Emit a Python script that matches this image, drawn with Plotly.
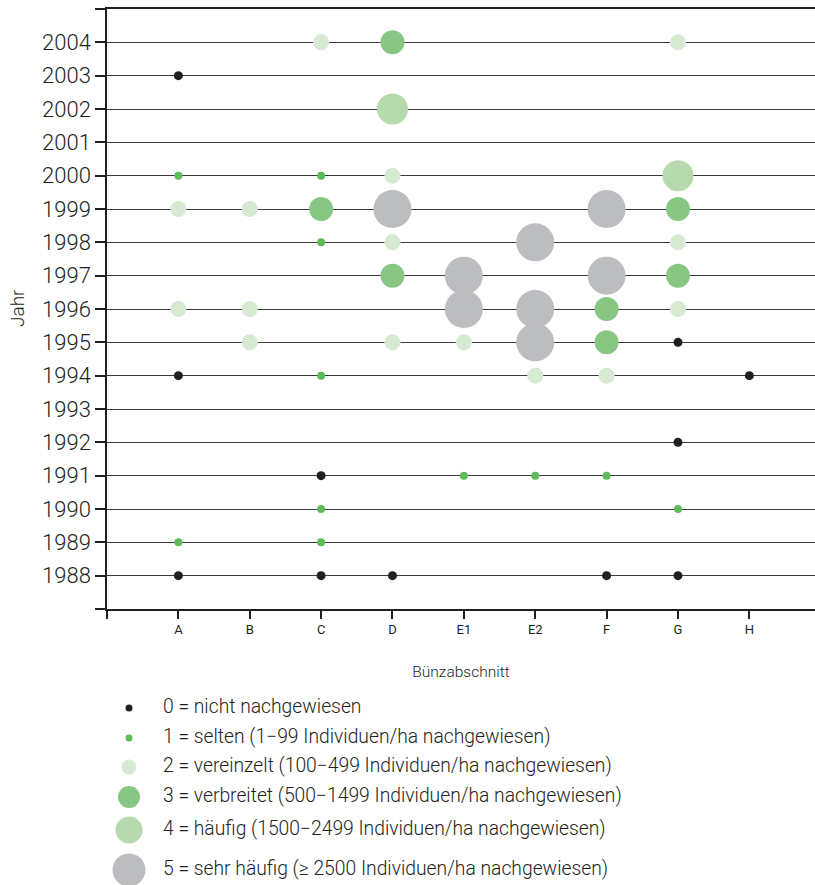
import plotly.graph_objects as go

years = list(range(1988, 2005))
sections = ["A", "B", "C", "D", "E1", "E2", "F", "G", "H"]

# abundance class per section, per year 1988..2004 (None = no data)
N = None
sec_A  = [0, 1, N, N, N, N, 0, N, 2, N, N, 2, 1, N, N, 0, N]
sec_B  = [N, N, N, N, N, N, N, 2, 2, N, N, 2, N, N, N, N, N]
sec_C  = [0, 1, 1, 0, N, N, 1, N, N, N, 1, 3, 1, N, N, N, 2]
sec_D  = [0, N, N, N, N, N, N, 2, N, 3, 2, 5, 2, N, 4, N, 3]
sec_E1 = [N, N, N, 1, N, N, N, 2, 5, 5, N, N, N, N, N, N, N]
sec_E2 = [N, N, N, 1, N, N, 2, 5, 5, N, 5, N, N, N, N, N, N]
sec_F  = [0, N, N, 1, N, N, 2, 3, 3, 5, N, 5, N, N, N, N, N]
sec_G  = [0, N, 1, N, 0, N, N, 0, 2, 3, 2, 3, 4, N, N, N, 2]
sec_H  = [N, N, N, N, N, N, 0, N, N, N, N, N, N, N, N, N, N]
section_values = [sec_A, sec_B, sec_C, sec_D, sec_E1, sec_E2, sec_F, sec_G, sec_H]

levels = [0, 1, 2, 3, 4, 5]
level_labels = [
    "0 = nicht nachgewiesen",
    "1 = selten (1\u221299 Individuen/ha nachgewiesen)",
    "2 = vereinzelt (100\u2212499 Individuen/ha nachgewiesen)",
    "3 = verbreitet (500\u22121499 Individuen/ha nachgewiesen)",
    "4 = häufig (1500\u22122499 Individuen/ha nachgewiesen)",
    "5 = sehr häufig (\u2265 2500 Individuen/ha nachgewiesen)",
]
level_colors = ["#231f20", "#5fba5a", "#d6ead2", "#88c684", "#b7d9ae", "#bcbdc1"]
level_sizes = [9, 8, 16, 24, 31, 38]
legend_sizes = [7, 7, 15, 22, 27, 33]
legend_rows = [708, 738, 767, 797, 830, 870]

FONT = "Roboto, Noto Sans, sans-serif"
INK = "#231f20"

fig = go.Figure()

for lv in levels:
    xs, ys = [], []
    for si, vals in enumerate(section_values):
        for yi, v in enumerate(vals):
            if v == lv:
                xs.append(si + 1)
                ys.append(years[yi])
    fig.add_trace(go.Scatter(
        x=xs, y=ys, mode="markers",
        marker=dict(size=level_sizes[lv], color=level_colors[lv], line=dict(width=0)),
        showlegend=False, hoverinfo="skip", cliponaxis=False,
    ))

# manual legend
for lv in levels:
    fig.add_trace(go.Scatter(
        x=[22], y=[legend_rows[lv]], mode="markers", xaxis="x2", yaxis="y2",
        marker=dict(size=legend_sizes[lv], color=level_colors[lv], line=dict(width=0)),
        showlegend=False, hoverinfo="skip", cliponaxis=False,
    ))
fig.add_trace(go.Scatter(
    x=[56] * len(levels), y=legend_rows, mode="text", xaxis="x2", yaxis="y2",
    text=level_labels, textposition="middle right",
    textfont=dict(family=FONT, size=19.3, color=INK, weight=300),
    showlegend=False, hoverinfo="skip", cliponaxis=False,
))

fig.update_layout(
    width=815, height=885,
    margin=dict(l=107, r=0, t=9, b=0),
    paper_bgcolor="white", plot_bgcolor="white",
    font=dict(family=FONT, color=INK),
    xaxis=dict(
        range=[0, 9.92], domain=[0, 1],
        tickvals=list(range(0, 10)), ticktext=[""] + sections,
        ticks="outside", ticklen=8, tickwidth=1.5, tickcolor=INK,
        tickfont=dict(size=13, color=INK),
        showgrid=False, zeroline=False,
        showline=True, linecolor=INK, linewidth=1.5, mirror=True,
        title=dict(text="Bünzabschnitt", font=dict(size=15.5, color=INK, weight=300), standoff=30),
    ),
    yaxis=dict(
        range=[1987, 2005], domain=[276 / 876, 1],
        tickvals=list(range(1987, 2006)),
        ticktext=[""] + [str(y) for y in years] + [""],
        ticks="outside", ticklen=10, tickwidth=1.5, tickcolor=INK,
        tickfont=dict(size=22, color=INK, weight=300),
        showgrid=True, gridcolor="#3a3a3a", gridwidth=1,
        zeroline=False, showline=True, linecolor=INK, linewidth=1.5,
    ),
    xaxis2=dict(range=[0, 708], domain=[0, 1], anchor="y2", visible=False),
    yaxis2=dict(range=[885, 690], domain=[0, 195 / 876], anchor="x2", visible=False),
    annotations=[dict(
        text="Jahr", xref="paper", yref="paper", xanchor="center", yanchor="middle",
        x=(17 - 107) / 708, y=(885 - 308) / 876, showarrow=False,
        textangle=-90, font=dict(size=19, color=INK, family=FONT, weight=300),
    )],
)

fig.write_html(
    "out.html",
    config={"displayModeBar": False},
    post_script="document.body.style.margin='0';document.body.style.overflow='hidden';",
)
